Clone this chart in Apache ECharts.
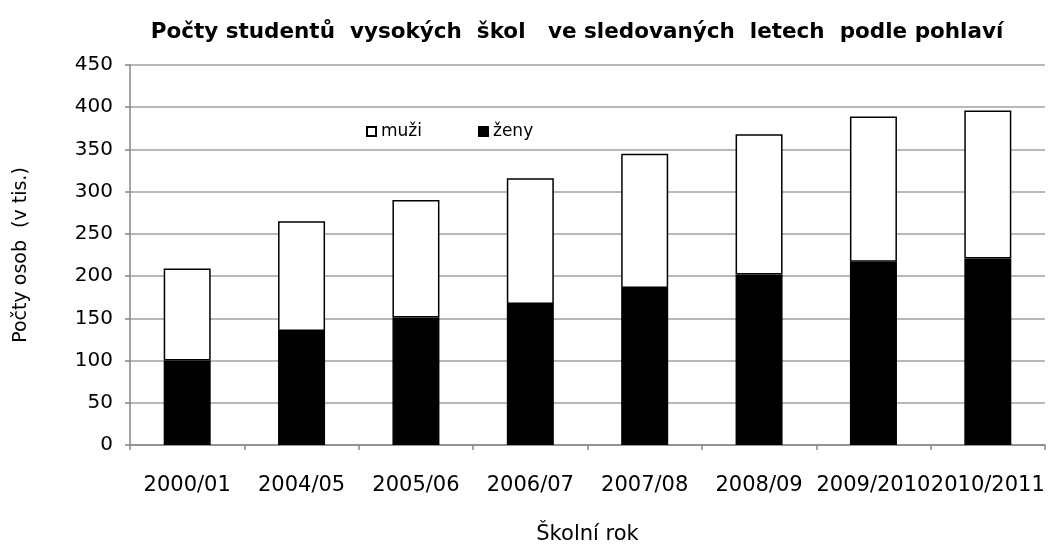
<!DOCTYPE html>
<html>
<head>
<meta charset="utf-8">
<script src="https://cdn.jsdelivr.net/npm/echarts@6/dist/echarts.min.js"></script>
<style>html,body{margin:0;padding:0;background:#fff}#c{width:1048px;height:550px}</style>
</head>
<body>
<div id="c"></div>
<script>
const categories = ['2000/01','2004/05','2005/06','2006/07','2007/08','2008/09','2009/2010','2010/2011'];
const zeny = [100, 135, 151, 167, 186, 202, 217, 221];
const muzi = [109, 130, 139, 149, 159, 166, 172, 175];
const yTicks = { min: 0, max: 450, interval: 50 };

const font = 'DejaVu Sans, Verdana, sans-serif';
const chart = echarts.init(document.getElementById('c'), null, { renderer: 'canvas' });
chart.setOption({
  animation: false,
  backgroundColor: '#fff',
  title: {
    text: 'Počty studentů  vysokých  škol   ve sledovaných  letech  podle pohlaví',
    left: 572, top: 16, textAlign: 'center',
    textStyle: { fontFamily: font, fontSize: 21.5, fontWeight: 'bold', color: '#000' }
  },
  legend: {
    data: ['muži', 'ženy'],
    left: 361, top: 118,
    itemWidth: 9, itemHeight: 9, itemGap: 56,
    icon: 'rect',
    textStyle: { fontFamily: font, fontSize: 17, color: '#000' }
  },
  grid: { left: 130, right: 3, top: 65, bottom: 100.5, containLabel: false },
  xAxis: {
    type: 'category',
    data: categories,
    name: 'Školní rok',
    nameLocation: 'middle',
    nameGap: 79,
    nameTextStyle: { fontFamily: font, fontSize: 21, color: '#000' },
    axisLine: { lineStyle: { color: '#868686', width: 1.5 } },
    axisTick: { show: true, length: 5, alignWithLabel: false, lineStyle: { color: '#868686', width: 1.5 } },
    axisLabel: { interval: 0, margin: 30, fontFamily: font, fontSize: 21, color: '#000' }
  },
  yAxis: {
    type: 'value',
    min: yTicks.min, max: yTicks.max, interval: yTicks.interval,
    name: 'Počty osob  (v tis.)',
    nameLocation: 'middle',
    nameGap: 99,
    nameTextStyle: { fontFamily: font, fontSize: 19, color: '#000' },
    axisLine: { show: true, lineStyle: { color: '#868686', width: 1.5 } },
    axisTick: { show: true, length: 5, lineStyle: { color: '#868686', width: 1.5 } },
    axisLabel: { margin: 17, fontFamily: font, fontSize: 20, color: '#000' },
    splitLine: { lineStyle: { color: '#a0a0a0', width: 1.5 } }
  },
  series: [
    {
      name: 'ženy', type: 'bar', stack: 'a', data: zeny, barWidth: 47,
      itemStyle: { color: '#000', borderColor: '#000', borderWidth: 1.5 }
    },
    {
      name: 'muži', type: 'bar', stack: 'a', data: muzi, barWidth: 47,
      itemStyle: { color: '#fff', borderColor: '#000', borderWidth: 1.5 }
    }
  ]
});
</script>
</body>
</html>
